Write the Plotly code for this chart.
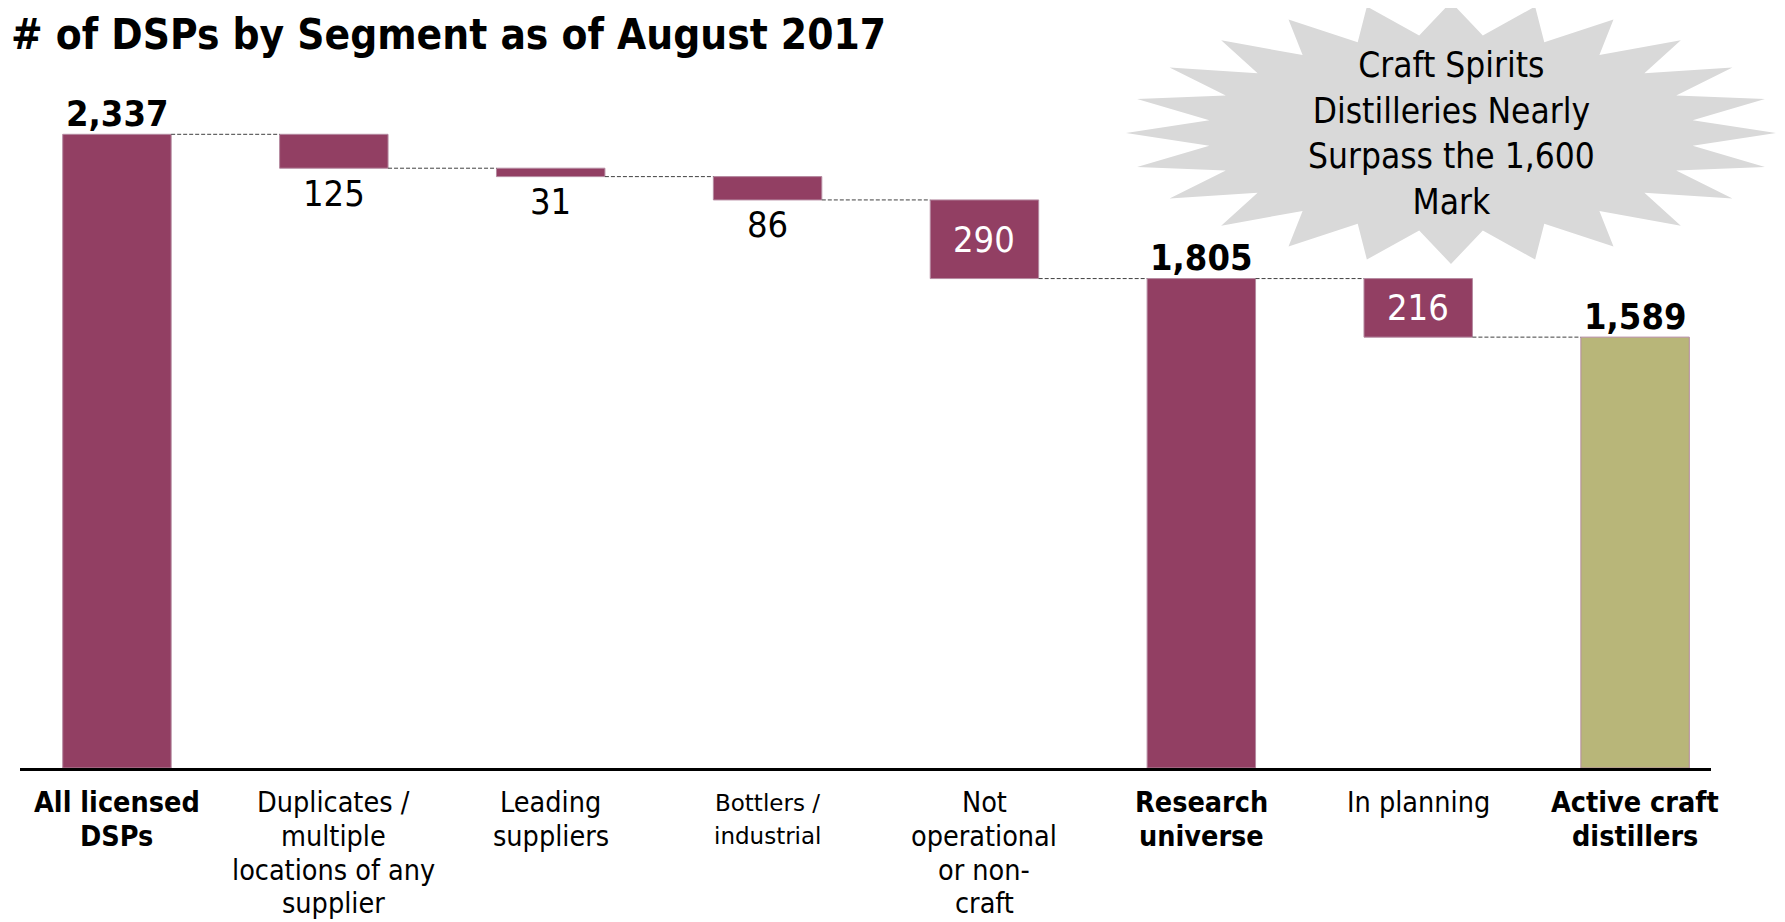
import math
import plotly.graph_objects as go

# ---------------- data ----------------
categories = [
    "<b>All licensed<br>DSPs</b>",
    "Duplicates /<br>multiple<br>locations of any<br>supplier",
    "Leading<br>suppliers",
    "Bottlers /<br>industrial",
    "Not<br>operational<br>or non-<br>craft",
    "<b>Research<br>universe</b>",
    "In planning",
    "<b>Active craft<br>distillers</b>",
]
measures = ["absolute", "relative", "relative", "relative", "relative", "total", "relative", "total"]
values = [2337, -125, -31, -86, -290, 1805, -216, 1589]
title_text = "# of DSPs by Segment as of August 2017"
callout_text = "Craft Spirits<br>Distilleries Nearly<br>Surpass the 1,600<br>Mark"

# ---------------- style ----------------
FONT = "DejaVu Sans Condensed, Liberation Sans Narrow, DejaVu Sans, sans-serif"
FONT_ALT = "DejaVu Sans, sans-serif"
PLUM = "#923F63"
OLIVE = "#B8B679"
bar_colors = [PLUM] * 7 + [OLIVE]
label_fonts = [FONT, FONT, FONT, FONT_ALT, FONT, FONT, FONT, FONT]
label_sizes = [28.5, 28.5, 28.5, 23, 28.5, 28.5, 28.5, 28.5]
BAR_W = 0.5

OFF = 8  # page body margin
W, H = 1785 - OFF, 922 - OFF
L, T = 20 - OFF, 63 - OFF
PLOT_RIGHT, PLOT_BOTTOM = 1711 - OFF, 768 - OFF
R, B = W - PLOT_RIGHT, H - PLOT_BOTTOM
PW, PH = PLOT_RIGHT - L, PLOT_BOTTOM - T

# compute bases / heights from the data
bases, heights, levels = [], [], []
level = 0
for m, v in zip(measures, values):
    if m in ("absolute", "total"):
        level = v
        bases.append(0)
        heights.append(v)
    else:
        new = level + v
        bases.append(min(level, new))
        heights.append(abs(v))
        level = new
    levels.append(level)

x = list(range(len(categories)))

fig = go.Figure()
fig.add_trace(go.Bar(
    x=x, y=heights, base=bases, width=BAR_W,
    marker=dict(color=bar_colors, line=dict(color="#b58aa0", width=1)),
    hoverinfo="skip", showlegend=False,
))

shapes = []
# connectors
for i in range(len(x) - 1):
    shapes.append(dict(
        type="line", xref="x", yref="y",
        x0=x[i] + BAR_W / 2, x1=x[i + 1] - BAR_W / 2,
        y0=levels[i], y1=levels[i],
        line=dict(color="#404040", width=1, dash="4px,2px"),
    ))


def to_paper(px, py):
    return (px - OFF - L) / PW, (PLOT_BOTTOM - (py - OFF)) / PH


# starburst callout (24-point star)
cx_px, cy_px, rx, ry = 1451, 133, 325, 131
inner = 0.75
pts = []
n = 24
for k in range(2 * n):
    ang = -math.pi / 2 + k * math.pi / n
    r = 1.0 if k % 2 == 0 else inner
    pts.append(to_paper(cx_px + rx * r * math.cos(ang), cy_px + ry * r * math.sin(ang)))
path = "M " + " L ".join(f"{a:.5f},{b:.5f}" for a, b in pts) + " Z"
shapes.append(dict(type="path", xref="paper", yref="paper", path=path,
                   fillcolor="#D9D9D9", line=dict(width=0), layer="below"))

annotations = []
# title
tx, ty = to_paper(9, 34)
annotations.append(dict(
    x=tx, y=ty, xref="paper", yref="paper", xanchor="left", yanchor="middle",
    text=f"<b>{title_text}</b>", showarrow=False,
    font=dict(family=FONT, size=42, color="black"),
))

# value labels
for i, (m, v) in enumerate(zip(measures, values)):
    if m in ("absolute", "total"):
        annotations.append(dict(
            x=x[i], y=bases[i] + heights[i], xref="x", yref="y",
            text=f"<b>{v:,}</b>", showarrow=False, yanchor="middle", yshift=21,
            font=dict(family=FONT, size=36, color="black"),
        ))
    elif abs(v) > 150:
        annotations.append(dict(
            x=x[i], y=bases[i] + heights[i] / 2, xref="x", yref="y",
            text=f"{abs(v):,}", showarrow=False, yanchor="middle",
            font=dict(family=FONT, size=36, color="white"),
        ))
    else:
        annotations.append(dict(
            x=x[i], y=bases[i], xref="x", yref="y",
            text=f"{abs(v):,}", showarrow=False, yanchor="middle", yshift=-25,
            font=dict(family=FONT, size=36, color="black"),
        ))

# category labels, one line at a time for exact line spacing
for i, lab in enumerate(categories):
    bold = lab.startswith("<b>")
    lines = lab.replace("<b>", "").replace("</b>", "").split("<br>")
    for j, ln in enumerate(lines):
        annotations.append(dict(
            x=x[i], y=0, xref="x", yref="paper",
            text=f"<b>{ln}</b>" if bold else ln,
            showarrow=False, yanchor="middle", yshift=-(34.5 + 33.8 * j),
            font=dict(family=label_fonts[i], size=label_sizes[i], color="black"),
        ))

# callout text
cxp, cyp = to_paper(cx_px, 133)
annotations.append(dict(
    x=cxp, y=cyp, xref="paper", yref="paper",
    text=callout_text, showarrow=False, xanchor="center", yanchor="middle",
    font=dict(family=FONT, size=35, color="black"),
))

fig.update_layout(
    width=W, height=H,
    margin=dict(l=L, r=R, t=T, b=B),
    plot_bgcolor="white", paper_bgcolor="white",
    xaxis=dict(range=[-0.447, 7.35], showticklabels=False, showgrid=False,
               zeroline=False, showline=True, linecolor="black", linewidth=3,
               ticks=""),
    yaxis=dict(range=[0, 2600], visible=False, showgrid=False, zeroline=False),
    shapes=shapes, annotations=annotations,
    bargap=0.5,
)
fig.write_html("out.html")
